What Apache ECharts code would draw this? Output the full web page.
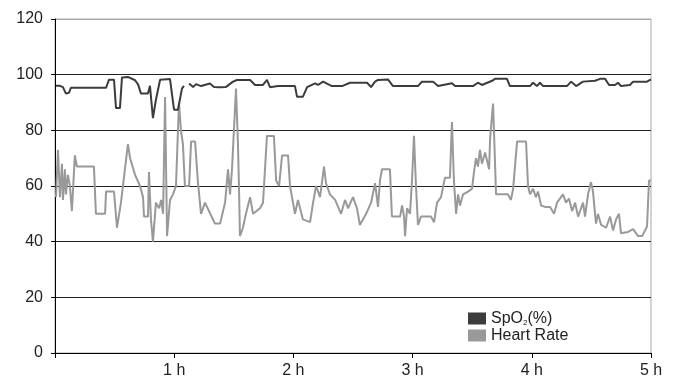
<!DOCTYPE html>
<html>
<head>
<meta charset="utf-8">
<script src="https://cdn.jsdelivr.net/npm/echarts@6/dist/echarts.min.js"></script>
<style>
  html, body { margin: 0; padding: 0; background: #fff; }
  #main { width: 678px; height: 382px; }
</style>
</head>
<body>
<div id="main"></div>
<script>
// time in minutes from start of recording
const spo2Time = [0.5, 2.5, 4, 5.5, 7, 8, 25.7, 27.2, 29.7, 30.7, 32.7, 33.7, 36.7, 40.3, 41.8, 43.3, 46.8, 47.8, 49.3, 50.8,
  52.9, 57.9, 59.9, 61.9, 63.9, 64.9, 66, 67.5, 69.5, 71, 73.5, 78, 80, 83.1, 86.1, 89.6, 91.6, 98.2, 100.7, 104.7,
  106.7, 108.2, 112.3, 120.8, 121.8, 124.8, 126.9, 130.9, 132.4, 134.9, 139.4, 144.5, 148.5, 157.1, 159.1, 161.1, 162.6, 167.6, 170.1, 182.7,
  184.7, 190.3, 192.8, 199.8, 201.4, 210.4, 212.9, 214.9, 220, 221.5, 227.5, 229, 239.1, 240.6, 242.6, 244.1, 245.7, 257.7, 259.8, 262.3,
  265.8, 271.8, 274.4, 276.9, 278.9, 281.9, 283.4, 284.9, 289.4, 291, 298, 300]
const spo2Values = [96, 96, 95.5, 93.2, 93.5, 95.3, 95.3, 98.2, 98.2, 88, 88, 99, 99.2, 98, 96.5, 93.2, 93.2, 96, 84.4, 91,
  98.2, 98.4, 87.4, 87.4, 95, 96, '-', 96.8, 95.6, 96.6, 95.9, 96.8, 95.6, 95.5, 95.6, 97.5, 98.1, 98.1, 96.3, 96.3,
  98.1, 95.5, 95.9, 95.9, 92.1, 92.1, 95.5, 96.9, 96.3, 97.5, 95.9, 95.9, 97.1, 97.1, 95.5, 97.5, 98.1, 98.3, 95.9, 95.9,
  97.5, 97.5, 95.9, 96.9, 95.9, 95.9, 97.1, 96.3, 97.8, 98.5, 98.5, 95.9, 95.9, 97.1, 95.9, 97.1, 95.9, 95.9, 97.5, 95.9,
  97.5, 97.8, 98.5, 98.5, 96.3, 96.3, 97.1, 95.9, 96.3, 97.5, 97.5, 98.3]

const hrTime = [0.5, 1.5, 2.5, 3.5, 4, 5, 5.5, 6.5, 7.5, 8.5, 10, 11, 19.6, 20.6, 25.2, 25.7, 29.7, 31.2, 33.2, 36.7,
  37.8, 40.3, 42.8, 44.3, 44.8, 46.8, 47.3, 48.3, 49.3, 50.8, 52.4, 53.4, 54.4, 55.4, 56.4, 57.9, 59.4, 60.9, 62.4, 63.4,
  64.4, 65.4, 67.5, 68.5, 70.5, 72, 73.5, 75.5, 77.5, 80.5, 83.1, 84.6, 85.6, 87.1, 88.1, 89.1, 91.1, 92.1, 92.6, 93.1,
  94.6, 96.1, 98.2, 99.7, 103.2, 104.7, 106.7, 110.2, 111.3, 112.8, 114.3, 117.3, 118.3, 119.8, 120.8, 122.3, 124.8, 128.4, 129.9, 131.4,
  133.4, 135.4, 136.4, 138.4, 141, 144, 146, 147.5, 150, 152, 153.5, 156.6, 159.1, 161.1, 162.6, 163.6, 164.6, 168.6, 169.6, 173.7,
  174.7, 175.7, 176.2, 177.2, 178.7, 179.7, 180.7, 181.7, 182.7, 184.2, 189.3, 190.8, 192.3, 194.3, 196.3, 198.8, 199.8, 200.8, 201.9, 202.9,
  203.9, 205.4, 207.9, 209.9, 210.9, 211.9, 212.9, 213.9, 214.9, 216.5, 218.5, 219, 220.5, 221.5, 222, 228, 229.5, 230.6, 232.6, 237.1,
  238.1, 239.1, 240.6, 242.1, 243.1, 244.7, 246.7, 249.2, 251.2, 252.7, 255.7, 257.2, 258.7, 260.3, 261.8, 263.3, 265.8, 266.8, 268.3, 269.8,
  270.8, 272.3, 273.3, 274.9, 277.4, 279.4, 280.9, 282.4, 283.9, 284.9, 288.4, 291, 293.5, 295.5, 297, 298, 299, 300]
const hrValues = [56, 73, 56, 68, 55, 66, 57, 64, 60, 51, 71, 67, 67, 50, 50, 58, 58, 45, 54, 75,
  70, 64, 60, 56, 49, 49, 65, 48, 40, 54, 52, 55, 50, 92, 42, 55, 57, 60, 90, 80,
  75, 60, 60, 76, 76, 61, 50, 54, 51, 46.5, 46.5, 51, 54, 66, 57, 66, 95, 75, 60, 42,
  45, 50, 56, 50, 52, 54, 78, 78, 62, 60, 71, 71, 60, 54, 50, 55, 48, 47, 54, 60,
  56, 67, 61, 57, 55, 50, 55, 52, 56, 52, 46, 50, 54, 61, 52.5, 62, 66, 66, 49, 49,
  53, 49, 42, 52, 50, 62, 78, 60, 46, 49, 49, 47, 54, 56, 63, 63, 83, 62, 50, 57,
  53, 57, 58, 59, 65, 70, 67, 73, 68, 72, 66, 77, 89.6, 68, 57, 57, 55, 59, 76, 76,
  60, 57, 59, 56, 58, 53, 52.5, 52.5, 50, 54, 57, 54, 55.5, 51, 54, 49, 54, 49, 57, 61.4,
  58, 46.5, 50, 46, 45, 49, 44, 48, 50, 43, 43.5, 44.5, 42, 42, 44, 45.5, 62, 62]

const yTicks = [0, 20, 40, 60, 80, 100, 120]

const spo2Data = spo2Time.map((t, i) => [t, spo2Values[i]])
const hrData = hrTime.map((t, i) => [t, hrValues[i]])

const chart = echarts.init(document.getElementById('main'))
const option = {
  animation: false,
  textStyle: { fontFamily: 'Liberation Sans, Arial, sans-serif' },
  grid: {
    left: 55, right: 27, top: 19, bottom: 29,
    show: true, borderColor: '#a8a8a8', borderWidth: 1
  },
  legend: {
    orient: 'vertical',
    left: 463, top: 305,
    itemWidth: 18, itemHeight: 12, itemGap: 0,
    icon: 'rect',
    textStyle: {
      color: '#222', fontSize: 16, lineHeight: 17,
      rich: { sub: { fontSize: 8, lineHeight: 17, verticalAlign: 'bottom', color: '#222', padding: [5, 0, 0, 0] } }
    },
    formatter: name => name === 'SpO2(%)' ? 'SpO{sub|2}(%)' : name,
    data: ['SpO2(%)', 'Heart Rate']
  },
  xAxis: {
    type: 'value', min: 0, max: 300, interval: 60,
    axisLine: { lineStyle: { color: '#000', width: 1 } },
    axisTick: { show: true, length: 5, lineStyle: { color: '#000' } },
    axisLabel: {
      color: '#222', fontSize: 16, margin: 10,
      formatter: v => v === 0 ? '' : (v / 60) + ' h'
    },
    splitLine: { show: false }
  },
  yAxis: {
    type: 'value', min: yTicks[0], max: yTicks[yTicks.length - 1], interval: 20,
    axisLine: { show: true, lineStyle: { color: '#000', width: 1 } },
    axisTick: { show: true, length: 4, lineStyle: { color: '#000' } },
    axisLabel: { color: '#222', fontSize: 16, margin: 12 },
    splitLine: { show: true, lineStyle: { color: ['#222', '#222', '#222', '#222', '#222', '#222', '#a8a8a8'], width: 1 } }
  },
  series: [
    {
      name: 'SpO2(%)', type: 'line', data: spo2Data,
      showSymbol: false, connectNulls: false, z: 3,
      itemStyle: { color: '#3c3c3c' },
      lineStyle: { color: '#3c3c3c', width: 2 }
    },
    {
      name: 'Heart Rate', type: 'line', data: hrData,
      showSymbol: false, z: 2,
      itemStyle: { color: '#999' },
      lineStyle: { color: '#999', width: 2 }
    }
  ]
}
chart.setOption(option)
</script>
</body>
</html>
